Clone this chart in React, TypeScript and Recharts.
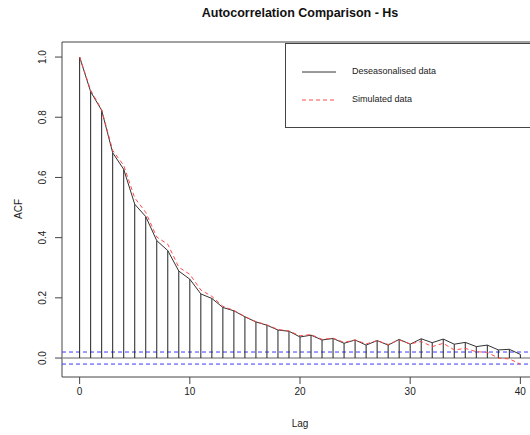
import {
  ComposedChart,
  Line,
  XAxis,
  YAxis,
  ReferenceLine,
  ReferenceArea,
  Label,
} from 'recharts'

const lags = [
  0, 1, 2, 3, 4, 5, 6, 7, 8, 9, 10, 11, 12, 13, 14, 15, 16, 17, 18, 19, 20,
  21, 22, 23, 24, 25, 26, 27, 28, 29, 30, 31, 32, 33, 34, 35, 36, 37, 38, 39, 40,
]

const deseasonalised = [
  1.0, 0.885, 0.823, 0.682, 0.627, 0.511, 0.47, 0.39, 0.357, 0.289, 0.262,
  0.213, 0.198, 0.168, 0.157, 0.137, 0.12, 0.109, 0.093, 0.089, 0.07,
  0.076, 0.06, 0.065, 0.049, 0.06, 0.043, 0.058, 0.043, 0.062, 0.046,
  0.064, 0.051, 0.063, 0.046, 0.052, 0.038, 0.043, 0.027, 0.029, 0.012,
]

const simulated = [
  1.0, 0.89, 0.825, 0.69, 0.64, 0.532, 0.484, 0.402, 0.378, 0.302, 0.278,
  0.226, 0.205, 0.172, 0.158, 0.138, 0.121, 0.11, 0.095, 0.09, 0.074,
  0.078, 0.062, 0.066, 0.052, 0.06, 0.047, 0.058, 0.045, 0.06, 0.047,
  0.055, 0.038, 0.049, 0.027, 0.032, 0.021, 0.019, 0.0, -0.003, -0.02,
]

const confLimit = 0.02
const xTicks = [0, 10, 20, 30, 40]
const yTicks = [0, 0.2, 0.4, 0.6, 0.8, 1.0]

const data = lags.map((lag, i) => ({
  lag,
  deseason: deseasonalised[i],
  sim: simulated[i],
}))

const X_DOMAIN: [number, number] = [-1.6, 41.6]
const Y_DOMAIN: [number, number] = [-0.063, 1.05]
const FONT = '"Liberation Sans", Arial, sans-serif'

function YTick(props: any) {
  const { x, y, payload } = props
  return (
    <text
      x={x}
      y={y}
      transform={`rotate(-90, ${x}, ${y})`}
      textAnchor="middle"
      fontSize={10}
      fontFamily={FONT}
      fill="#222"
    >
      {Number(payload.value).toFixed(1)}
    </text>
  )
}

function XTick(props: any) {
  const { x, y, payload } = props
  return (
    <text x={x} y={y + 9} textAnchor="middle" fontSize={10} fontFamily={FONT} fill="#222">
      {payload.value}
    </text>
  )
}

export default function App() {
  return (
    <div style={{ position: 'absolute', left: 0, top: 0, width: 530, height: 435, background: '#fff', overflow: 'hidden' }}>
      <div
        style={{
          position: 'absolute',
          left: 100,
          width: 400,
          top: 6,
          textAlign: 'center',
          fontFamily: FONT,
          fontWeight: 'bold',
          fontSize: 12.5,
          color: '#111',
        }}
      >
        Autocorrelation Comparison - Hs
      </div>
      <ComposedChart
        width={530}
        height={435}
        data={data}
        margin={{ top: 42, right: -8, bottom: 0, left: 0 }}
      >
        <XAxis
          dataKey="lag"
          type="number"
          domain={X_DOMAIN}
          ticks={xTicks}
          allowDataOverflow
          axisLine={false}
          tickLine={{ stroke: '#444' }}
          tickSize={7}
          height={58}
          tick={<XTick />}
        >
          <Label value="Lag" position="insideBottom" offset={8} fontSize={10} fontFamily={FONT} fill="#222" />
        </XAxis>
        <YAxis
          type="number"
          domain={Y_DOMAIN}
          ticks={yTicks}
          allowDataOverflow
          axisLine={false}
          tickLine={{ stroke: '#444' }}
          tickSize={7}
          tickMargin={9}
          width={62}
          tick={<YTick />}
          label={{
            content: () => (
              <text
                x={22}
                y={209}
                transform="rotate(-90, 22, 209)"
                textAnchor="middle"
                fontSize={10}
                fontFamily={FONT}
                fill="#222"
              >
                ACF
              </text>
            ),
          }}
        />
        <ReferenceArea
          x1={X_DOMAIN[0]}
          x2={X_DOMAIN[1]}
          y1={Y_DOMAIN[0]}
          y2={Y_DOMAIN[1]}
          fill="none"
          stroke="#444"
          strokeWidth={1}
          ifOverflow="visible"
        />
        <ReferenceLine y={0} stroke="#999" strokeWidth={1.5} />
        <ReferenceLine y={confLimit} stroke="#3b3bff" strokeDasharray="4 3" />
        <ReferenceLine y={-confLimit} stroke="#3b3bff" strokeDasharray="4 3" />
        {data.map((d) => (
          <ReferenceLine
            key={d.lag}
            segment={[
              { x: d.lag, y: 0 },
              { x: d.lag, y: d.deseason },
            ]}
            stroke="#222"
            strokeWidth={1}
          />
        ))}
        <Line
          type="linear"
          dataKey="deseason"
          stroke="#333"
          strokeWidth={1}
          dot={false}
          isAnimationActive={false}
        />
        <Line
          type="linear"
          dataKey="sim"
          stroke="#ff4a4a"
          strokeWidth={1}
          strokeDasharray="4 3"
          dot={false}
          isAnimationActive={false}
        />
      </ComposedChart>
      <div
        style={{
          position: 'absolute',
          left: 285,
          top: 43,
          width: 260,
          height: 83,
          border: '1px solid #444',
          background: '#fff',
          fontFamily: FONT,
          fontSize: 9,
          color: '#222',
        }}
      >
        <svg width={40} height={70} style={{ position: 'absolute', left: 14, top: 0 }}>
          <line x1={2} y1={28} x2={36} y2={28} stroke="#333" strokeWidth={1} />
          <line x1={2} y1={56} x2={36} y2={56} stroke="#ff4a4a" strokeWidth={1} strokeDasharray="4 3" />
        </svg>
        <div style={{ position: 'absolute', left: 66, top: 22 }}>Deseasonalised data</div>
        <div style={{ position: 'absolute', left: 66, top: 50 }}>Simulated data</div>
      </div>
    </div>
  )
}
